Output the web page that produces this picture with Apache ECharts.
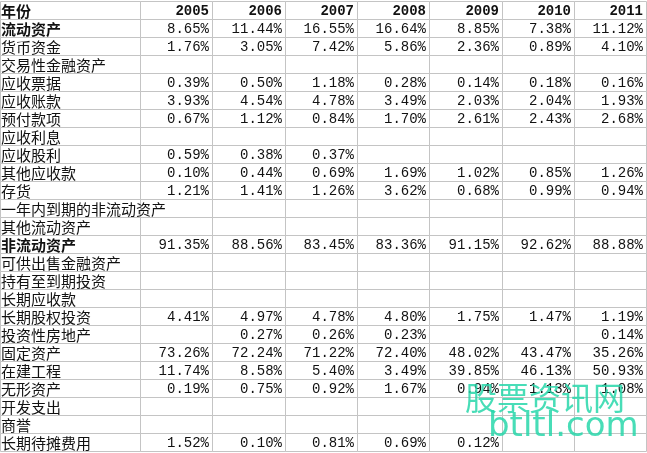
<!DOCTYPE html>
<html><head><meta charset="utf-8">
<script src="https://cdn.jsdelivr.net/npm/echarts@6/dist/echarts.min.js"></script>
<style>html,body{margin:0;padding:0;background:#fff}#c{width:647px;height:453px}</style>
</head><body><div id="c"></div>
<script>
const years = ['2005','2006','2007','2008','2009','2010','2011'];
const rowLabels = ['流动资产','货币资金','交易性金融资产','应收票据','应收账款','预付款项','应收利息','应收股利','其他应收款','存货','一年内到期的非流动资产','其他流动资产','非流动资产','可供出售金融资产','持有至到期投资','长期应收款','长期股权投资','投资性房地产','固定资产','在建工程','无形资产','开发支出','商誉','长期待摊费用'];
const boldRows = ['流动资产','非流动资产'];
const v2005 = [8.65,1.76,null,0.39,3.93,0.67,null,0.59,0.10,1.21,null,null,91.35,null,null,null,4.41,null,73.26,11.74,0.19,null,null,1.52];
const v2006 = [11.44,3.05,null,0.50,4.54,1.12,null,0.38,0.44,1.41,null,null,88.56,null,null,null,4.97,0.27,72.24,8.58,0.75,null,null,0.10];
const v2007 = [16.55,7.42,null,1.18,4.78,0.84,null,0.37,0.69,1.26,null,null,83.45,null,null,null,4.78,0.26,71.22,5.40,0.92,null,null,0.81];
const v2008 = [16.64,5.86,null,0.28,3.49,1.70,null,null,1.69,3.62,null,null,83.36,null,null,null,4.80,0.23,72.40,3.49,1.67,null,null,0.69];
const v2009 = [8.85,2.36,null,0.14,2.03,2.61,null,null,1.02,0.68,null,null,91.15,null,null,null,1.75,null,48.02,39.85,0.94,null,null,0.12];
const v2010 = [7.38,0.89,null,0.18,2.04,2.43,null,null,0.85,0.99,null,null,92.62,null,null,null,1.47,null,43.47,46.13,1.13,null,null,null];
const v2011 = [11.12,4.10,null,0.16,1.93,2.68,null,null,1.26,0.94,null,null,88.88,null,null,null,1.19,0.14,35.26,50.93,1.08,null,null,null];
const headerLabel = '年份';
const watermark1 = '股票资讯网', watermark2 = 'btltl.com';

const cols = [v2005,v2006,v2007,v2008,v2009,v2010,v2011];
const allRows = [headerLabel].concat(rowLabels);
const colEdges = [0,140,212,285,357,429,502,574,646];
const data = [];
allRows.forEach((lab,r)=>{
  data.push([0,lab,lab,r===0||boldRows.includes(lab)?1:0]);
  for(let c=0;c<7;c++){
    let t;
    if(r===0) t=years[c];
    else { const v=cols[c][r-1]; t = v==null?'':v.toFixed(2)+'%'; }
    data.push([c+1,lab,t,r===0?1:0]);
  }
});
const chart = echarts.init(document.getElementById('c'));
chart.setOption({
  animation:false,
  grid:{left:0,right:0,top:1,bottom:2},
  xAxis:{type:'value',min:0,max:8,show:false},
  yAxis:{type:'category',data:allRows,inverse:true,show:false},
  series:[{type:'custom',data:data,encode:{x:0,y:1},z:2,
    renderItem:function(params,api){
      const c=api.value(0);
      const p=api.coord([0,api.value(1)]);
      const h=api.size([0,1])[1];
      const x0=colEdges[c], x1=colEdges[c+1];
      const y0=p[1]-h/2;
      const bold=api.value(3)===1;
      const txt=api.value(2);
      return {type:'group',children:[
        {type:'rect',z2:1,shape:{x:x0+0.5,y:y0+0.5,width:x1-x0,height:h},
          style:{fill:'none',stroke:'#c4c4c4',lineWidth:1}},
        {type:'text',z2:10,style:{
          text:txt,x:c===0?x0+1:x1-3,y:p[1]+1,
          align:c===0?'left':'right',verticalAlign:'middle',
          font:(bold?'bold ':'')+(c===0?'15px "Noto Sans CJK SC"':'14px "Liberation Mono"'),
          fill:'#111'}}]};
    }}],
  graphic:[
    {type:'text',z:100,x:465,y:382,style:{text:watermark1,font:'32px "Noto Sans CJK SC"',fill:'rgba(40,215,170,0.85)'}},
    {type:'text',z:100,x:488,y:410,style:{text:watermark2,font:'34px "DejaVu Sans"',fill:'rgba(40,215,170,0.85)'}}
  ]
});
</script></body></html>
